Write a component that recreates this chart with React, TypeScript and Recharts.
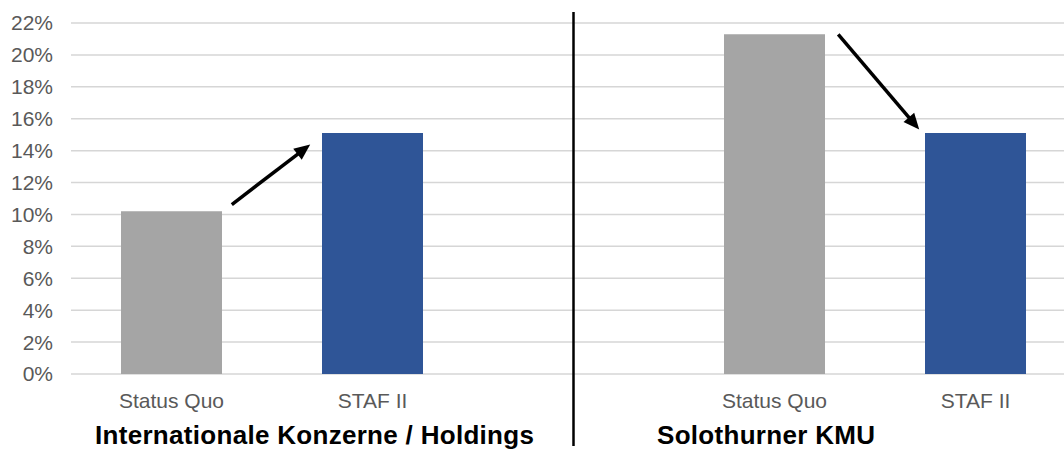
import { BarChart, Bar, XAxis, YAxis, CartesianGrid, Cell, ReferenceLine } from "recharts";

const categories = ["Status Quo", "STAF II", "Status Quo", "STAF II"];
const slots = [0.5, 1.5, 3.5, 4.5];
const rates = [10.2, 15.1, 21.3, 15.1];
const barColors = ["#a5a5a5", "#2f5597", "#a5a5a5", "#2f5597"];
const yTicks = [0, 2, 4, 6, 8, 10, 12, 14, 16, 18, 20, 22];
const groupTitles = ["Internationale Konzerne / Holdings", "Solothurner KMU"];
const dividerSlot = 2.5;

// arrows between the bars, in (slot, percent) units
const arrowUp = [
  { x: 0.8, y: 10.62 },
  { x: 1.19, y: 14.38 },
];
const arrowDown = [
  { x: 3.817, y: 21.28 },
  { x: 4.22, y: 15.32 },
];

const data = categories.map((c, i) => ({ pos: slots[i], label: c, value: rates[i] }));

const font = "Arial, 'Liberation Sans', sans-serif";

function Arrow(p: any) {
  const { x1, y1, x2, y2 } = p;
  const dx = x2 - x1;
  const dy = y2 - y1;
  const len = Math.sqrt(dx * dx + dy * dy);
  const ux = dx / len;
  const uy = dy / len;
  const head = 16;
  const half = 7;
  const bx = x2 - ux * head;
  const by = y2 - uy * head;
  return (
    <g>
      <line x1={x1} y1={y1} x2={bx + ux * 2} y2={by + uy * 2} stroke="#000" strokeWidth={3.5} />
      <polygon
        points={`${x2},${y2} ${bx - uy * half},${by + ux * half} ${bx + uy * half},${by - ux * half}`}
        fill="#000"
      />
    </g>
  );
}

function Divider(p: any) {
  const top = Math.min(p.y1, p.y2);
  const bottom = Math.max(p.y1, p.y2);
  return <line x1={p.x1} x2={p.x2} y1={top - 11} y2={bottom + 72} stroke="#000" strokeWidth={2.5} />;
}

const titleStyle = {
  position: "absolute" as const,
  fontFamily: font,
  fontWeight: "bold" as const,
  fontSize: 26,
  lineHeight: "20px",
  letterSpacing: 0.3,
  color: "#000",
  whiteSpace: "nowrap" as const,
};

export default function App() {
  return (
    <div
      style={{
        position: "fixed",
        left: 0,
        top: 0,
        width: 1064,
        height: 450,
        overflow: "hidden",
        background: "#fff",
      }}
    >
      <BarChart
        width={1076}
        height={450}
        data={data}
        margin={{ top: 23, right: 0, left: 0, bottom: 0 }}
      >
        <CartesianGrid vertical={false} stroke="#d6d6d6" strokeWidth={1.5} />
        <XAxis
          dataKey="pos"
          type="number"
          domain={[0, 5]}
          allowDataOverflow
          ticks={slots}
          interval={0}
          tickFormatter={(v: number) => categories[slots.indexOf(v)] ?? ""}
          axisLine={false}
          tickLine={false}
          tickMargin={13}
          height={76}
          tick={{ fill: "#595959", fontSize: 21, fontFamily: font }}
        />
        <YAxis
          width={71}
          domain={[0, 22]}
          ticks={yTicks}
          interval={0}
          tickFormatter={(v: number) => `${v}%`}
          axisLine={false}
          tickLine={false}
          tickMargin={12}
          tick={{ fill: "#595959", fontSize: 21, fontFamily: font }}
        />
        <Bar dataKey="value" barSize={101} isAnimationActive={false}>
          {data.map((d, i) => (
            <Cell key={i} fill={barColors[i]} />
          ))}
        </Bar>
        <ReferenceLine x={dividerSlot} ifOverflow="visible" shape={Divider} />
        <ReferenceLine segment={arrowUp} ifOverflow="visible" shape={Arrow} />
        <ReferenceLine segment={arrowDown} ifOverflow="visible" shape={Arrow} />
      </BarChart>
      <div style={{ ...titleStyle, left: 95, top: 425 }}>{groupTitles[0]}</div>
      <div style={{ ...titleStyle, left: 657, top: 425 }}>{groupTitles[1]}</div>
    </div>
  );
}
